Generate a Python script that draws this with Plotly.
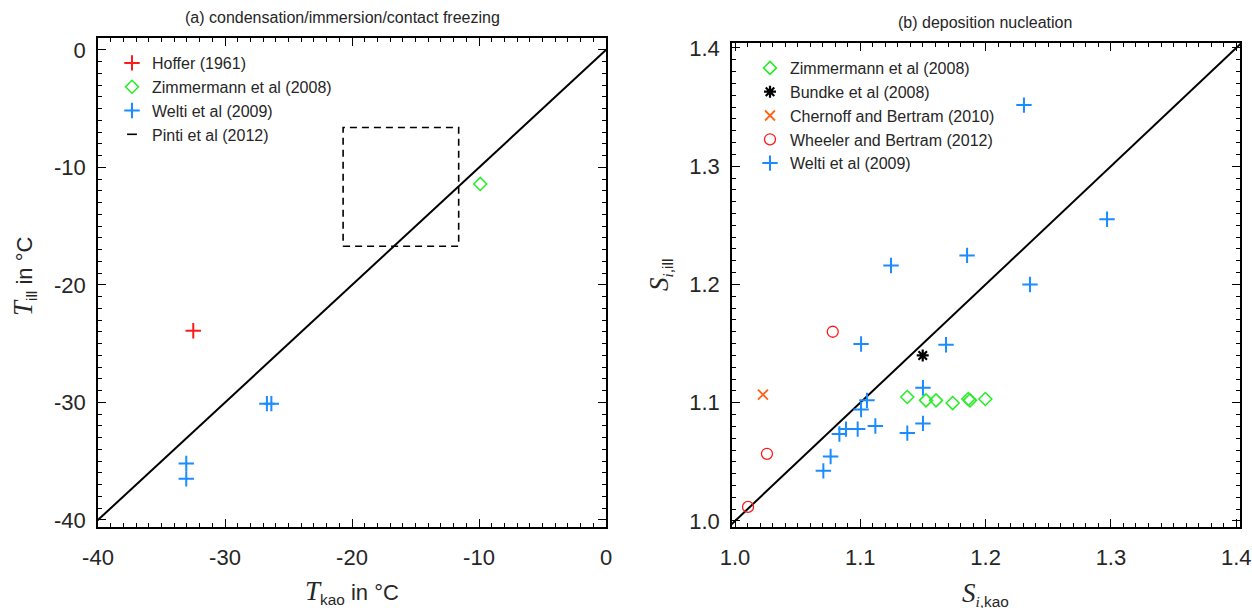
import plotly.graph_objects as go

W, H = 1252, 608

# ---------------- data: panel (a) ----------------
hoffer_x = [-32.5]
hoffer_y = [-23.9]
zimm_a_x = [-9.9]
zimm_a_y = [-11.4]
welti_a_x = [-26.7, -26.35, -33.05, -33.05]
welti_a_y = [-30.1, -30.1, -35.2, -36.5]
pinti_x = [-20.7, -11.6]
pinti_y = [-16.7, -6.6]
line_a = [-45, 5]
ticks_a = [-40, -30, -20, -10, 0]
ticklabels_a = ["-40", "-30", "-20", "-10", "0"]

# ---------------- data: panel (b) ----------------
zimm_b_x = [1.1375, 1.1524, 1.1604, 1.1737, 1.1862, 1.1875, 1.1998]
zimm_b_y = [1.1048, 1.1020, 1.1020, 1.0997, 1.1031, 1.1020, 1.1031]
bundke_x = [1.1498]
bundke_y = [1.1400]
chernoff_x = [1.0223]
chernoff_y = [1.1068]
wheeler_x = [1.0780, 1.0255, 1.0104]
wheeler_y = [1.1600, 1.0568, 1.0119]
welti_b_x = [1.2306, 1.2969, 1.1852, 1.1245, 1.2354, 1.1006, 1.1684, 1.1500,
             1.1053, 1.1006, 1.0886, 1.0833, 1.0979, 1.1120, 1.1375, 1.1500,
             1.0763, 1.0705]
welti_b_y = [1.3517, 1.2551, 1.2246, 1.2161, 1.2000, 1.1497, 1.1490, 1.1127,
             1.1020, 1.0943, 1.0777, 1.0735, 1.0777, 1.0803, 1.0743, 1.0825,
             1.0545, 1.0424]
line_b = [0.9, 1.5]
ticks_b = [1.0, 1.1, 1.2, 1.3, 1.4]
ticklabels_b = ["1.0", "1.1", "1.2", "1.3", "1.4"]

RED = "#ff1a1a"
GREEN = "#22ee22"
BLUE = "#1a8cff"
ORANGE = "#ff6414"
TXT = "#262626"
FONT = "Liberation Sans"

minor_a = [-40 + i for i in range(0, 41)]
minor_b = [round(1.0 + 0.01 * i, 2) for i in range(0, 41)]


def px_x(p):
    return p / W


def px_y(p):
    return 1 - p / H


fig = go.Figure()

# ----- panel a -----
fig.add_trace(go.Scatter(x=line_a, y=line_a, mode="lines", line=dict(color="black", width=2),
                         showlegend=False, xaxis="x", yaxis="y", hoverinfo="skip"))
fig.add_trace(go.Scatter(x=[pinti_x[0], pinti_x[1], pinti_x[1], pinti_x[0], pinti_x[0]],
                         y=[pinti_y[0], pinti_y[0], pinti_y[1], pinti_y[1], pinti_y[0]],
                         mode="lines", line=dict(color="black", width=1.6, dash="7px,5px"),
                         showlegend=False, xaxis="x", yaxis="y", legendgroup="pinti"))
fig.add_trace(go.Scatter(x=hoffer_x, y=hoffer_y, mode="markers", name="Hoffer (1961)",
                         marker=dict(symbol="cross-thin", size=11, line=dict(color=RED, width=2)),
                         xaxis="x", yaxis="y", legend="legend"))
fig.add_trace(go.Scatter(x=zimm_a_x, y=zimm_a_y, mode="markers", name="Zimmermann et al (2008)",
                         marker=dict(symbol="diamond-open", size=10, color=GREEN, line=dict(color=GREEN, width=1.5)),
                         xaxis="x", yaxis="y", legend="legend"))
fig.add_trace(go.Scatter(x=welti_a_x, y=welti_a_y, mode="markers", name="Welti et al (2009)",
                         marker=dict(symbol="cross-thin", size=11, line=dict(color=BLUE, width=2)),
                         xaxis="x", yaxis="y", legend="legend"))
fig.add_trace(go.Scatter(x=[None], y=[None], mode="markers", name="Pinti et al (2012)",
                         marker=dict(symbol="line-ew", size=7, line=dict(color="black", width=1.6)),
                         xaxis="x", yaxis="y", legend="legend", legendgroup="pinti"))

# ----- panel b -----
fig.add_trace(go.Scatter(x=line_b, y=line_b, mode="lines", line=dict(color="black", width=2),
                         showlegend=False, xaxis="x2", yaxis="y2", hoverinfo="skip"))
fig.add_trace(go.Scatter(x=zimm_b_x, y=zimm_b_y, mode="markers", name="Zimmermann et al (2008)",
                         marker=dict(symbol="diamond-open", size=10, color=GREEN, line=dict(color=GREEN, width=1.5)),
                         xaxis="x2", yaxis="y2", legend="legend2"))
fig.add_trace(go.Scatter(x=bundke_x, y=bundke_y, mode="markers", name="Bundke et al (2008)",
                         marker=dict(symbol="asterisk-open", size=10, color="black", line=dict(color="black", width=2.2)),
                         xaxis="x2", yaxis="y2", legend="legend2"))
fig.add_trace(go.Scatter(x=chernoff_x, y=chernoff_y, mode="markers", name="Chernoff and Bertram (2010)",
                         marker=dict(symbol="x-thin-open", size=10, color=ORANGE, line=dict(color=ORANGE, width=1.8)),
                         xaxis="x2", yaxis="y2", legend="legend2"))
fig.add_trace(go.Scatter(x=wheeler_x, y=wheeler_y, mode="markers", name="Wheeler and Bertram (2012)",
                         marker=dict(symbol="circle-open", size=11, color=RED, line=dict(color=RED, width=1.3)),
                         xaxis="x2", yaxis="y2", legend="legend2"))
fig.add_trace(go.Scatter(x=welti_b_x, y=welti_b_y, mode="markers", name="Welti et al (2009)",
                         marker=dict(symbol="cross-thin", size=11, line=dict(color=BLUE, width=2)),
                         xaxis="x2", yaxis="y2", legend="legend2"))

axis_common = dict(
    showline=True, linecolor="black", linewidth=1.6, mirror="allticks",
    ticks="inside", ticklen=8, tickwidth=1.3, tickcolor="black",
    showgrid=False, zeroline=False, tickmode="array", ticklabeloverflow="allow",
    tickfont=dict(family=FONT, size=22, color=TXT),
)
minor_common = dict(tickmode="array", ticklen=4, ticks="inside", tickcolor="black", tickwidth=1, showgrid=False)

fig.update_layout(
    width=W, height=H,
    margin=dict(l=0, r=0, t=0, b=0, autoexpand=False),
    paper_bgcolor="white", plot_bgcolor="white",
    font=dict(family=FONT, color=TXT),
    xaxis=dict(axis_common, domain=[px_x(98), px_x(606)], range=[-40, 0],
               tickvals=ticks_a, ticktext=ticklabels_a,
               minor=dict(minor_common, tickvals=minor_a), anchor="y", ticklabelstandoff=10),
    yaxis=dict(axis_common, domain=[px_y(527), px_y(38)], range=[-40.6, 1.02],
               tickvals=ticks_a, ticktext=ticklabels_a,
               minor=dict(minor_common, tickvals=minor_a), anchor="x", ticklabelstandoff=6),
    xaxis2=dict(axis_common, domain=[px_x(732), px_x(1240)], range=[0.9976, 1.403],
                tickvals=ticks_b, ticktext=ticklabels_b,
                minor=dict(minor_common, tickvals=minor_b), anchor="y2", ticklabelstandoff=10),
    yaxis2=dict(axis_common, domain=[px_y(527), px_y(43)], range=[0.9949, 1.4042],
                tickvals=ticks_b, ticktext=ticklabels_b,
                minor=dict(minor_common, tickvals=minor_b), anchor="x2", ticklabelstandoff=6),
    legend=dict(x=px_x(112), y=px_y(46), xanchor="left", yanchor="top",
                bgcolor="rgba(0,0,0,0)", borderwidth=0,
                font=dict(family=FONT, size=16, color=TXT), itemwidth=30, tracegroupgap=0),
    legend2=dict(x=px_x(750), y=px_y(51), xanchor="left", yanchor="top",
                 bgcolor="rgba(0,0,0,0)", borderwidth=0,
                 font=dict(family=FONT, size=16, color=TXT), itemwidth=30, tracegroupgap=0),
)

serif = "font-family:Liberation Serif;font-style:italic"
annotations = [
    dict(text="(a) condensation/immersion/contact freezing", x=px_x(342), y=px_y(18),
         font=dict(family=FONT, size=16, color=TXT)),
    dict(text="(b) deposition nucleation", x=px_x(985), y=px_y(22),
         font=dict(family=FONT, size=16, color=TXT)),
    dict(text=f'<span style="{serif};font-size:27px">T</span><sub>kao</sub> in °C',
         x=px_x(352), y=px_y(592), font=dict(family=FONT, size=22, color=TXT)),
    dict(text=f'<span style="{serif};font-size:27px">T</span><sub>ill</sub> in °C',
         x=px_x(24), y=px_y(277), textangle=-90, font=dict(family=FONT, size=22, color=TXT)),
    dict(text=f'<span style="{serif};font-size:27px">S</span><sub><span style="{serif}">i</span>,kao</sub>',
         x=px_x(985), y=px_y(594), font=dict(family=FONT, size=22, color=TXT)),
    dict(text=f'<span style="{serif};font-size:27px">S</span><sub><span style="{serif}">i</span>,ill</sub>',
         x=px_x(660), y=px_y(275), textangle=-90, font=dict(family=FONT, size=22, color=TXT)),
]
for a in annotations:
    a.update(xref="paper", yref="paper", showarrow=False, xanchor="center", yanchor="middle")
fig.update_layout(annotations=annotations)

# remove the browser's default 8px body margin so the 1252x608 figure fills the window
fig.write_html("out.html", config={"displayModeBar": False},
               post_script="document.body.style.margin='0';document.body.style.overflow='hidden';")
